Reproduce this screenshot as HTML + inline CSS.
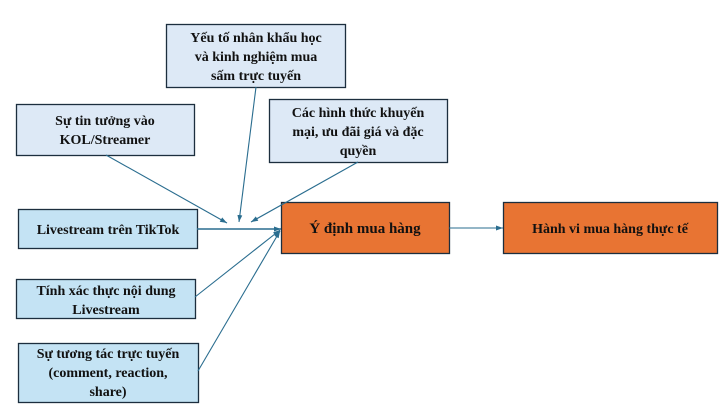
<!DOCTYPE html>
<html><head><meta charset="utf-8"><style>
html,body{margin:0;padding:0;background:#fff;}
svg{display:block;}
svg text{font-family:"Liberation Serif","Times New Roman","DejaVu Serif",serif !important;font-weight:bold;font-size:14px;fill:#111;}
</style></head><body>
<svg width="724" height="409" xmlns="http://www.w3.org/2000/svg">
<defs><marker id="a" markerWidth="8" markerHeight="8" refX="7" refY="4" orient="auto" markerUnits="userSpaceOnUse"><path d="M0,1.5 L7,4 L0,6.5 Z" fill="#2a6d8f"/></marker></defs>
<g stroke="#1c2e3e" stroke-width="1.3">
<rect x="166.5" y="24.5" width="179" height="63" fill="#dde9f6"/>
<rect x="16.5" y="104.5" width="178" height="51" fill="#dde9f6"/>
<rect x="269.5" y="99.5" width="178" height="63" fill="#dde9f6"/>
<rect x="18.5" y="209.5" width="179" height="39" fill="#c4e3f4"/>
<rect x="16.5" y="279.5" width="179" height="39" fill="#c4e3f4"/>
<rect x="18.5" y="343.5" width="180" height="59" fill="#c4e3f4"/>
<rect x="281.5" y="202.5" width="168" height="51" fill="#e87433"/>
<rect x="503.5" y="202.5" width="214" height="51" fill="#e87433"/>
</g>
<g stroke="#2a6d8f" stroke-width="1.1" fill="none">
<line x1="106" y1="155" x2="227" y2="223" marker-end="url(#a)"/>
<line x1="256" y1="87" x2="239" y2="222" marker-end="url(#a)"/>
<line x1="358" y1="162" x2="251" y2="222" marker-end="url(#a)"/>
<line x1="197" y1="229" x2="281" y2="229" stroke-width="1.6" marker-end="url(#a)"/>
<line x1="195" y1="297" x2="280" y2="230" marker-end="url(#a)"/>
<line x1="198" y1="371" x2="280" y2="231" marker-end="url(#a)"/>
<line x1="449" y1="228" x2="503" y2="228" marker-end="url(#a)"/>
</g>
<g text-anchor="middle" font-family="Liberation Serif, serif" font-weight="bold">
<text x="256" y="42">Yếu tố nhân khẩu học</text>
<text x="256" y="61">và kinh nghiệm mua</text>
<text x="256" y="80">sấm trực tuyến</text>
<text x="105" y="125">Sự tin tưởng vào</text>
<text x="105" y="144">KOL/Streamer</text>
<text x="358" y="117">Các hình thức khuyến</text>
<text x="358" y="136">mại, ưu đãi giá và đặc</text>
<text x="358" y="155">quyền</text>
<text x="108" y="234">Livestream trên TikTok</text>
<text x="106" y="295">Tính xác thực nội dung</text>
<text x="106" y="314">Livestream</text>
<text x="108" y="358">Sự tương tác trực tuyến</text>
<text x="108" y="377">(comment, reaction,</text>
<text x="108" y="396">share)</text>
<text x="365" y="233" style="font-size:15px">Ý định mua hàng</text>
<text x="610" y="233">Hành vi mua hàng thực tế</text>
</g>
</svg>
</body></html>
